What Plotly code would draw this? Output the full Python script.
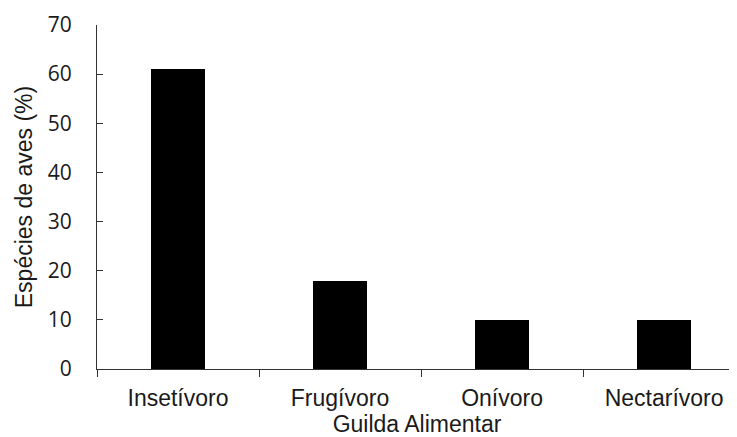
import plotly.graph_objects as go

categories = ["Insetívoro", "Frugívoro", "Onívoro", "Nectarívoro"]
values = [61, 18, 10, 10]
y_ticks = [0, 10, 20, 30, 40, 50, 60, 70]

fig = go.Figure(
    go.Bar(x=categories, y=values, width=0.33, marker=dict(color="black", line=dict(width=0)))
)

fig.update_layout(
    width=737,
    height=437,
    margin=dict(l=89, r=8, t=17, b=76),
    paper_bgcolor="white",
    plot_bgcolor="white",
    showlegend=False,
    bargap=0,
)

fig.update_xaxes(
    type="category",
    range=[-0.5, 3.45],
    automargin=False,
    showline=True,
    linecolor="#333333",
    linewidth=1,
    ticks="outside",
    tickson="boundaries",
    ticklen=7,
    tickcolor="#333333",
    showgrid=False,
    ticklabelstandoff=8,
    tickfont=dict(family="Liberation Sans, Arial, sans-serif", size=23, color="#1a1a1a"),
    title=dict(text="Guilda Alimentar", standoff=2,
               font=dict(family="Liberation Sans, Arial, sans-serif", size=23, color="#1a1a1a")),
)

fig.update_yaxes(
    range=[0, 70],
    tickvals=y_ticks,
    automargin=False,
    showline=True,
    linecolor="#333333",
    linewidth=1,
    ticks="inside",
    ticklen=6,
    tickcolor="#333333",
    showgrid=False,
    zeroline=False,
    ticklabelstandoff=20,
    tickfont=dict(family="Open Sans, sans-serif", size=21, color="#1a1a1a"),
    title=dict(text="Espécies de aves (%)", standoff=8,
               font=dict(family="Liberation Sans, Arial, sans-serif", size=23, color="#1a1a1a")),
)

fig.write_html("out.html")
